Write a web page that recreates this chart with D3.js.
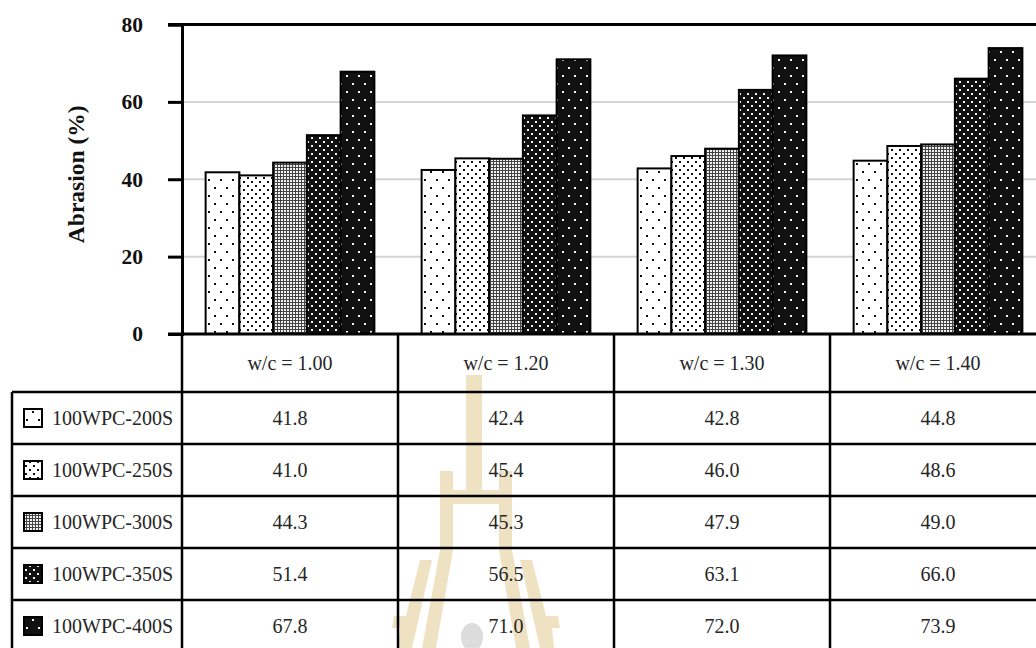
<!DOCTYPE html>
<html>
<head>
<meta charset="utf-8">
<script src="https://cdn.jsdelivr.net/npm/d3@7"></script>
<style>
  html, body { margin: 0; padding: 0; background: #fff; overflow: hidden; }
  svg { display: block; }
</style>
</head>
<body>
<svg id="chart" width="1036" height="648"></svg>
<script>
// Abrasion loss by water/cement ratio and sand content
const categories = ["w/c = 1.00", "w/c = 1.20", "w/c = 1.30", "w/c = 1.40"];
const series = ["100WPC-200S", "100WPC-250S", "100WPC-300S", "100WPC-350S", "100WPC-400S"];
const values200 = [41.8, 42.4, 42.8, 44.8];
const values250 = [41.0, 45.4, 46.0, 48.6];
const values300 = [44.3, 45.3, 47.9, 49.0];
const values350 = [51.4, 56.5, 63.1, 66.0];
const values400 = [67.8, 71.0, 72.0, 73.9];
const yTicks = [0, 20, 40, 60, 80];
const yLabel = "Abrasion (%)";

const seriesValues = [values200, values250, values300, values350, values400];

const svg = d3.select("#chart");

// layout
const plotLeft = 182, plotRight = 1046, plotTop = 24.5, plotBottom = 334;
const tableLeft = 12, rowH = 52, headerH = 58;
const serif = "'Liberation Serif', 'Times New Roman', serif";
const cellFont = 20;

const x = d3.scaleBand().domain(categories).range([plotLeft, plotRight]);
const x1 = d3.scaleBand().domain(series).range([0, x.bandwidth()]).paddingOuter(0.7).paddingInner(0);
const y = d3.scaleLinear().domain([0, 80]).range([plotBottom, plotTop]);

// fill patterns, one per series
const defs = svg.append("defs");
function dotPattern(id, size, bg, fg, dots, dot) {
  const p = defs.append("pattern").attr("id", id).attr("patternUnits", "userSpaceOnUse")
    .attr("width", size[0]).attr("height", size[1]);
  p.append("rect").attr("width", size[0]).attr("height", size[1]).attr("fill", bg);
  dots.forEach(d => p.append("rect").attr("x", d[0]).attr("y", d[1])
    .attr("width", dot).attr("height", dot).attr("fill", fg));
}
dotPattern("p0", [12, 16], "#fff", "#111", [[2, 3], [8, 11]], 2);
dotPattern("p1", [8, 8], "#fff", "#111", [[1, 1], [5, 5]], 2);
dotPattern("p2", [3, 3], "#444", "#f2f2f2", [[0, 0]], 2);
dotPattern("p3", [8, 8], "#111", "#f4f4f4", [[1, 1], [5, 5]], 2);
dotPattern("p4", [12, 16], "#111", "#f4f4f4", [[2, 3], [8, 11]], 2);
const fillOf = s => `url(#p${series.indexOf(s)})`;

// emblem watermark behind the table
const wm = svg.append("g").attr("fill", "#efe2c2");
const emblem = [
  [[466, 375], [482, 375], [482, 500], [466, 500]],
  [[440, 490], [506, 490], [506, 504], [440, 504]],
  [[440, 471], [453, 471], [453, 550], [436, 648], [422, 648], [440, 550]],
  [[499, 471], [512, 471], [512, 550], [530, 648], [516, 648], [499, 550]],
  [[420, 560], [432, 560], [412, 648], [398, 648], [400, 628], [392, 628], [394, 616], [406, 616]],
  [[520, 560], [532, 560], [546, 616], [558, 616], [560, 628], [552, 628], [554, 648], [540, 648]]
];
emblem.forEach(pts => wm.append("path").attr("d", d3.line()(pts) + "Z"));
svg.append("ellipse").attr("cx", 472).attr("cy", 637).attr("rx", 11).attr("ry", 14).attr("fill", "#dcdcdc");

// gridlines
svg.append("g").selectAll("line").data(yTicks.filter(t => t > 0 && t < 80)).join("line")
  .attr("x1", plotLeft).attr("x2", plotRight)
  .attr("y1", d => y(d)).attr("y2", d => y(d))
  .attr("stroke", "#d4d4d4").attr("stroke-width", 2);

// bars
const groups = svg.append("g").selectAll("g").data(categories).join("g")
  .attr("transform", d => `translate(${x(d)},0)`);
groups.selectAll("rect")
  .data((c, ci) => series.map((s, si) => ({ s, v: seriesValues[si][ci] })))
  .join("rect")
  .attr("x", d => x1(d.s))
  .attr("width", x1.bandwidth())
  .attr("y", d => y(d.v))
  .attr("height", d => y(0) - y(d.v))
  .attr("fill", d => fillOf(d.s))
  .attr("stroke", "#000").attr("stroke-width", 2);

// top border of plot area
svg.append("line").attr("x1", 168).attr("x2", plotRight)
  .attr("y1", plotTop).attr("y2", plotTop).attr("stroke", "#000").attr("stroke-width", 3);

// y axis
const yAxis = svg.append("g").attr("transform", `translate(${plotLeft},0)`)
  .call(d3.axisLeft(y).tickValues(yTicks).tickSize(14).tickPadding(25));
yAxis.select(".domain").attr("stroke", "#000").attr("stroke-width", 3);
yAxis.selectAll(".tick line").attr("stroke", "#000").attr("stroke-width", 3);
yAxis.selectAll(".tick text").attr("font-family", serif).attr("font-size", 21.5)
  .attr("font-weight", "bold").attr("fill", "#111");

svg.append("text").attr("transform", `translate(84,${(plotTop + plotBottom) / 2 - 5}) rotate(-90)`)
  .attr("text-anchor", "middle").attr("font-family", serif).attr("font-size", 23.5)
  .attr("font-weight", "bold").attr("fill", "#111").text(yLabel);

// data table under the plot
const table = svg.append("g");
const tableTop = plotBottom;
const rowsTop = tableTop + headerH;
const rowY = i => rowsTop + i * rowH;

// horizontal rules
d3.range(series.length + 1).forEach(i => {
  table.append("line").attr("x1", tableLeft).attr("x2", plotRight)
    .attr("y1", rowY(i)).attr("y2", rowY(i)).attr("stroke", "#000").attr("stroke-width", 2.5);
});
// vertical rules
table.append("line").attr("x1", tableLeft).attr("x2", tableLeft)
  .attr("y1", rowsTop).attr("y2", rowY(series.length)).attr("stroke", "#000").attr("stroke-width", 2.5);
categories.forEach(c => {
  table.append("line").attr("x1", x(c)).attr("x2", x(c))
    .attr("y1", tableTop).attr("y2", rowY(series.length)).attr("stroke", "#000").attr("stroke-width", 2.5);
});
// zero baseline
svg.append("line").attr("x1", 168).attr("x2", plotRight)
  .attr("y1", y(0)).attr("y2", y(0)).attr("stroke", "#000").attr("stroke-width", 3);

// header labels
table.selectAll("text.head").data(categories).join("text").attr("class", "head")
  .attr("x", d => x(d) + x.bandwidth() / 2).attr("y", tableTop + headerH / 2)
  .attr("dy", "0.35em").attr("text-anchor", "middle")
  .attr("font-family", serif).attr("font-size", cellFont).attr("fill", "#262626").text(d => d);

// legend cells and values
series.forEach((s, i) => {
  const cy = rowY(i) + rowH / 2;
  table.append("rect").attr("x", 24).attr("y", cy - 9).attr("width", 18).attr("height", 18)
    .attr("fill", fillOf(s)).attr("stroke", "#000").attr("stroke-width", 2);
  table.append("text").attr("x", 52).attr("y", cy).attr("dy", "0.35em")
    .attr("font-family", serif).attr("font-size", cellFont).attr("fill", "#262626").text(s);
  categories.forEach((c, ci) => {
    table.append("text").attr("x", x(c) + x.bandwidth() / 2).attr("y", cy).attr("dy", "0.35em")
      .attr("text-anchor", "middle").attr("font-family", serif).attr("font-size", cellFont)
      .attr("fill", "#262626").text(seriesValues[i][ci].toFixed(1));
  });
});
</script>
</body>
</html>
